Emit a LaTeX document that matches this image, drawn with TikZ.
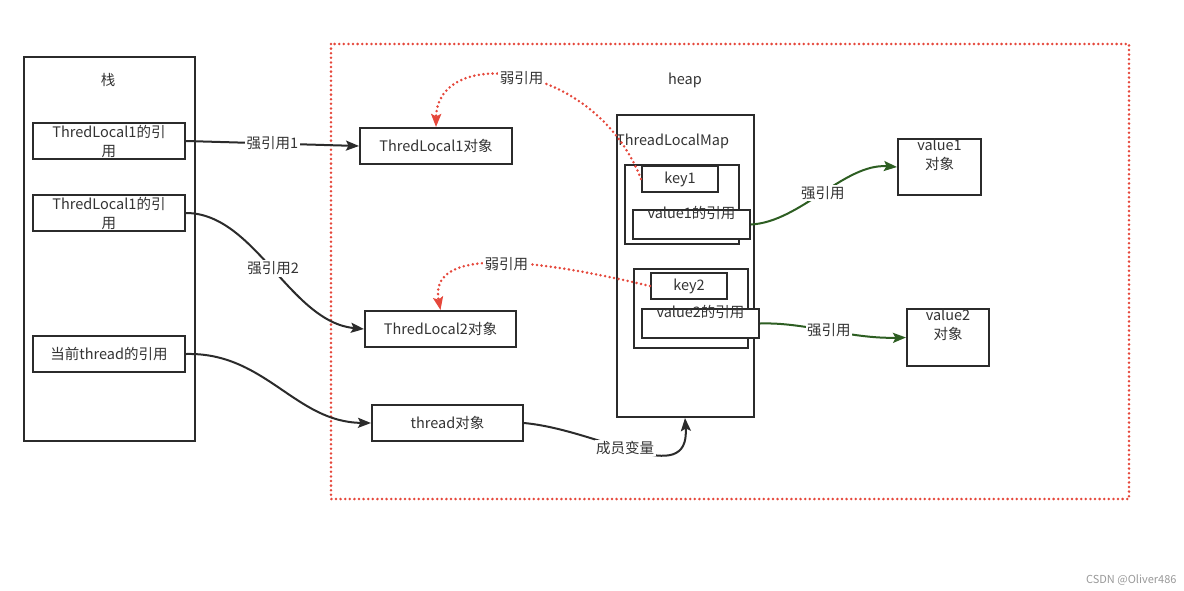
\documentclass[tikz,border=0pt]{standalone}
\usepackage{fontspec}
\setmainfont{Noto Sans CJK SC}
\usetikzlibrary{arrows.meta}
\definecolor{ink}{HTML}{2B2B2B}
\definecolor{txt}{HTML}{333333}
\definecolor{grn}{HTML}{2D5E22}
\definecolor{wred}{HTML}{E5473B}
\begin{document}
\begin{tikzpicture}[x=1pt,y=-1pt,
  every node/.style={text=txt,font=\fontsize{14.5}{19}\selectfont},
  box/.style={draw=ink,line width=2pt,inner sep=0pt,align=center},
  conn/.style={draw=ink,line width=2pt,-{Stealth[length=13pt,width=10pt,inset=2.5pt]}},
  strong/.style={draw=grn,line width=2pt,-{Stealth[length=13pt,width=10pt,inset=2.5pt]}},
  weak/.style={draw=wred,line width=2.8pt,dash pattern=on 0pt off 4.6pt,line cap=round,
     -{Stealth[length=13pt,width=10pt,inset=2.5pt,line cap=butt,sep=0pt]}},
  lbl/.style={fill=white,inner sep=1.5pt}]
\useasboundingbox (0,0) rectangle (1184,590);
% heap area
\draw[wred,line width=2.8pt,dash pattern=on 0pt off 4.6pt,line cap=round] (331,44) rectangle (1129,499);
\node (heaplbl) at (685,80) {heap};
% stack
\node[box,minimum width=171,minimum height=384] (stack) at (109.5,249) {};
\node (stacklbl) at (108,80) {栈};
\node[box,minimum width=152,minimum height=36] (a1) at (109,141) {ThredLocal1的引\\用};
\node[box,minimum width=152,minimum height=36] (a2) at (109,213) {ThredLocal1的引\\用};
\node[box,minimum width=152,minimum height=36] (a3) at (109,354) {当前thread的引用};
% heap objects
\node[box,minimum width=152,minimum height=36] (tl1) at (436,146) {ThredLocal1对象};
\node[box,minimum width=151,minimum height=36] (tl2) at (440.5,329) {ThredLocal2对象};
\node[box,minimum width=151,minimum height=36] (th) at (447.5,423) {thread对象};
% ThreadLocalMap
\node[box,minimum width=137,minimum height=302] (map) at (685,266) {};
\node[anchor=west,inner sep=0pt] (maplbl) at (616,141) {ThreadLocalMap};
\node[box,minimum width=114,minimum height=79] (e1) at (682,204.5) {};
\node[box,fill=white,minimum width=76,minimum height=26] (key1) at (680,179) {key1};
\node[box,fill=white,minimum width=117,minimum height=29,
  label={[anchor=north,inner sep=0pt,yshift=3pt]north:value1的引用}] (v1) at (691.5,224.5) {};
\node[box,minimum width=114,minimum height=79] (e2) at (691,308.5) {};
\node[box,fill=white,minimum width=76,minimum height=26] (key2) at (689,286) {key2};
\node[box,fill=white,minimum width=117,minimum height=29,
  label={[anchor=north,inner sep=0pt,yshift=3pt]north:value2的引用}] (v2) at (700.5,323.5) {};
% value objects
\node[box,minimum width=83,minimum height=56,
  label={[anchor=north,inner sep=0pt,align=center,yshift=-1pt]north:value1\\对象}] (vo1) at (939.5,167) {};
\node[box,minimum width=82,minimum height=57,
  label={[anchor=north,inner sep=0pt,align=center,yshift=-1pt]north:value2\\对象}] (vo2) at (948,337.5) {};
% strong refs from stack
\path[conn] (a1.east) -- (tl1.west) node[lbl,pos=0.5] {强引用1};
\path[conn] (a2.east) .. controls (255,213) and (290,322) .. (tl2.west) node[lbl,pos=0.5] {强引用2};
\path[conn] (a3.east) .. controls (265,352) and (295,422) .. (th.west);
\path[conn] (th.east) .. controls (600,430) and (690,490) .. (map.south) node[lbl,pos=0.45] {成员变量};
% strong refs to values
\path[strong] (v1.east) .. controls (800,222) and (845,163) .. (vo1.west) node[lbl,pos=0.5] {强引用};
\path[strong] (v2.east) .. controls (805,322) and (850,339) .. (vo2.west) node[lbl,pos=0.5] {强引用};
% weak refs
\path[weak] (key1.west) .. controls (595,60) and (437,45) .. (tl1.north) node[lbl,pos=0.5] {弱引用};
\path[weak] (key2.west) .. controls (560,265) and (427,240) .. (tl2.north) node[lbl,pos=0.5] {弱引用};
% watermark
\node[anchor=east,text=black!40,font=\fontsize{11}{13}\selectfont] (wm) at (1180,580) {CSDN @Oliver486};
\end{tikzpicture}
\end{document}
